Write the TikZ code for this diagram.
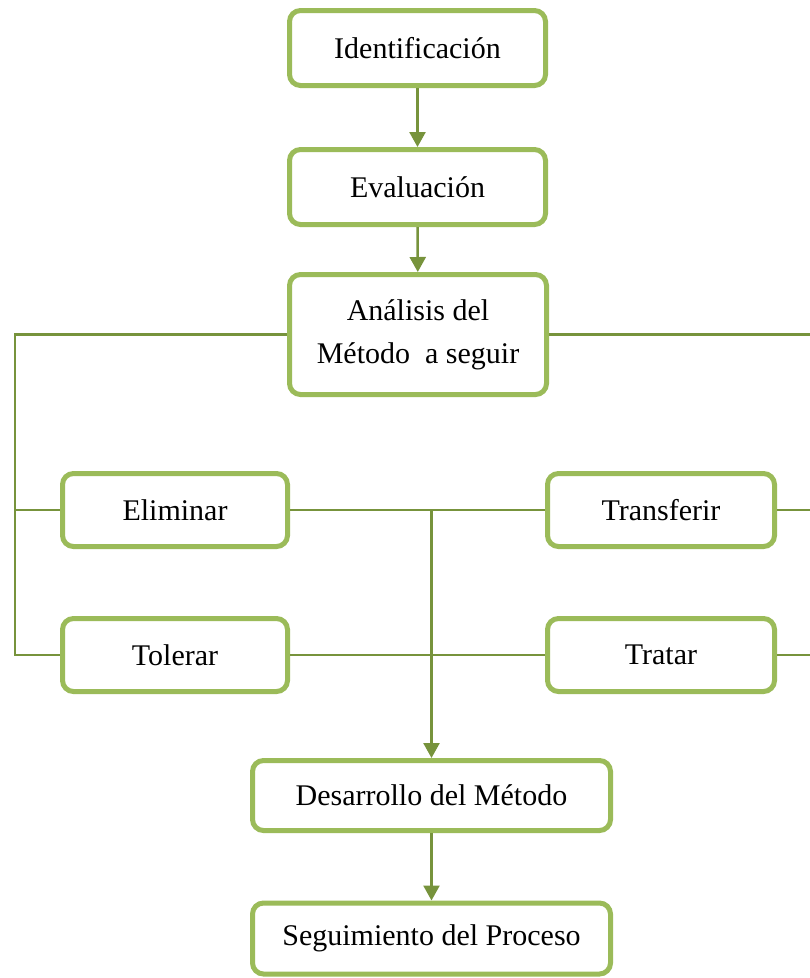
\documentclass[tikz,border=0pt]{standalone}
\usepackage{fontspec}
\setmainfont{Liberation Serif}
\usetikzlibrary{arrows.meta}

\definecolor{boxgreen}{RGB}{155,187,89}
\definecolor{linegreen}{RGB}{119,147,60}

\begin{document}
\begin{tikzpicture}[x=1pt,y=-1pt,
  box/.style={draw=boxgreen,line width=5pt,rounded corners=11pt,fill=white,
    inner sep=0pt,font=\fontsize{30}{43}\selectfont,align=center},
  conn/.style={draw=linegreen,line width=2.5pt},
  arr/.style={conn,-{Triangle[width=16pt,length=15pt]}}]

\useasboundingbox (0,0) rectangle (810,978);

\node[box,minimum width=256pt,minimum height=75pt] (ident) at (417.5,48)    {Identificación};
\node[box,minimum width=256pt,minimum height=75pt] (eval)  at (417.5,187)   {Evaluación};
\node[box,minimum width=257pt,minimum height=120pt] (anal) at (418,334.5)   {Análisis del\\Método\ \ a seguir};
\node[box,minimum width=225pt,minimum height=73pt] (elim)  at (175,510)     {Eliminar};
\node[box,minimum width=225pt,minimum height=73pt] (toler) at (175,655)     {Tolerar};
\node[box,minimum width=227pt,minimum height=73pt] (trans) at (661,510)     {Transferir};
\node[box,minimum width=227pt,minimum height=73pt] (trat)  at (661,655)     {Tratar};
\node[box,minimum width=358pt,minimum height=70pt] (desa)  at (431.5,795.5) {Desarrollo del Método};
\node[box,minimum width=358pt,minimum height=71pt] (segu)  at (431.5,938.5) {Seguimiento del Proceso};

\coordinate (lftop) at (15,0 |- anal.west);
\coordinate (rttop) at (810,0 |- anal.east);
\coordinate (rtx)   at (810,0);
\coordinate (mid)   at (elim.east -| desa.north);

% ramas
\draw[conn] (anal.west) -- (lftop) |- (toler.west);
\draw[conn] (elim.west) -- (elim.west -| lftop);
\draw[conn] (anal.east) -- (rttop);
\draw[conn] (trans.east) -- (trans.east -| rtx);
\draw[conn] (trat.east) -- (trat.east -| rtx);
\draw[conn] (elim.east) -- (trans.west);
\draw[conn] (toler.east) -- (trat.west);

\draw[arr] (ident) -- (eval);
\draw[arr] (eval) -- (anal);
\draw[arr] (mid) -- (desa);
\draw[arr] (desa) -- (segu);
\end{tikzpicture}
\end{document}
